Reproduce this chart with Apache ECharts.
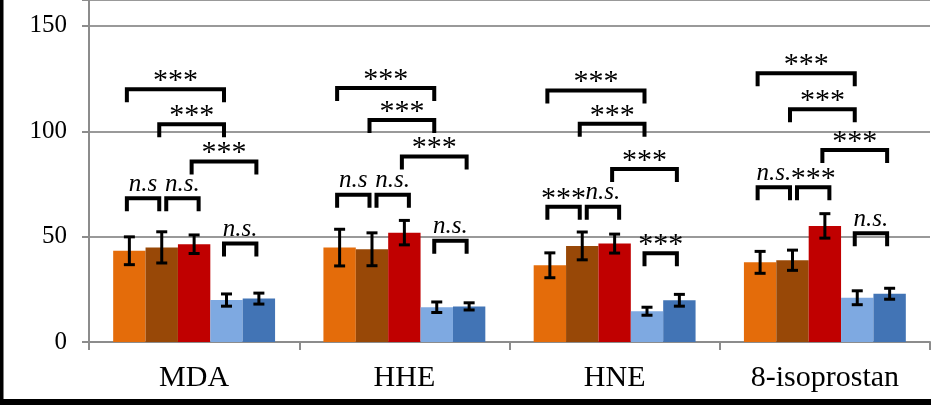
<!DOCTYPE html>
<html>
<head>
<meta charset="utf-8">
<script src="https://cdn.jsdelivr.net/npm/echarts@6/dist/echarts.min.js"></script>
<style>html,body{margin:0;padding:0;background:#fff;}#c{width:931px;height:405px;}</style>
</head>
<body>
<div id="c"></div>
<script>
const categories = ['MDA', 'HHE', 'HNE', '8-isoprostan'];
const yTicks = [0, 50, 100, 150];

const orangeVals = [43.3, 44.8, 36.4, 37.8];
const brownVals  = [44.9, 44.0, 45.6, 38.8];
const redVals    = [46.4, 51.9, 46.7, 55.1];
const lblueVals  = [19.9, 16.5, 14.6, 21.0];
const blueVals   = [20.6, 16.9, 19.8, 22.9];

const orangeErr = [6.6, 8.7, 5.9, 5.2];
const brownErr  = [7.4, 7.8, 6.6, 4.8];
const redErr    = [4.4, 5.8, 4.5, 5.8];
const lblueErr  = [2.9, 2.5, 1.9, 3.3];
const blueErr   = [2.6, 1.7, 2.8, 2.6];

// significance brackets: category, from bar, to bar, level (value), label
const bracketCat   = [0,0,0,0,0,0, 1,1,1,1,1,1, 2,2,2,2,2,2, 3,3,3,3,3,3];
const bracketFrom  = [0,1,2,0,1,3, 0,1,2,0,1,3, 0,1,2,0,1,3, 0,1,2,0,1,3];
const bracketTo    = [3,3,4,1,2,4, 3,3,4,1,2,4, 3,3,4,1,2,4, 3,3,4,1,2,4];
const bracketLevel = [119.9,103.3,85.6,68.2,68.2,46.8,
                      120.5,105.4,88.0,69.9,69.9,48.1,
                      119.3,103.6,82.1,64.2,64.2,42.1,
                      127.5,110.4,91.1,73.4,73.4,51.6];
const bracketText  = ['***','***','***','n.s','n.s.','n.s.',
                      '***','***','***','n.s','n.s.','n.s.',
                      '***','***','***','***','n.s.','***',
                      '***','***','***','n.s.','***','n.s.'];

const values = [orangeVals, brownVals, redVals, lblueVals, blueVals];
const errors = [orangeErr, brownErr, redErr, lblueErr, blueErr];
const colors = ['#E46C0A', '#984807', '#C00000', '#7EA9E1', '#4274B5'];

const GAP = 0.23;
const NB = 5;
const FONT = '"Liberation Serif", "Times New Roman", serif';

function barCenter(api, cat, i) {
  const c = api.coord([cat, 0]);
  const cw = api.size([1, 0])[0];
  const bw = cw * (1 - GAP) / NB;
  return c[0] + (i - (NB - 1) / 2) * bw;
}

const series = [];
values.forEach((vals, i) => {
  series.push({
    type: 'bar',
    data: vals,
    barGap: '0%',
    barCategoryGap: (GAP * 100) + '%',
    itemStyle: { color: colors[i] },
    z: 2
  });
});
errors.forEach((errs, i) => {
  series.push({
    type: 'custom',
    data: errs.map((e, k) => [k, values[i][k], e]),
    encode: { x: 0, y: 1 },
    z: 5,
    clip: false,
    renderItem: function (params, api) {
      const cat = api.value(0), v = api.value(1), e = api.value(2);
      const x = barCenter(api, cat, i);
      const yTop = api.coord([cat, v + e])[1];
      const yBot = api.coord([cat, v - e])[1];
      const hw = 5.5;
      const st = { stroke: '#000', lineWidth: 3 };
      return {
        type: 'group',
        children: [
          { type: 'line', shape: { x1: x, y1: yTop, x2: x, y2: yBot }, style: st },
          { type: 'line', shape: { x1: x - hw, y1: yTop, x2: x + hw, y2: yTop }, style: st },
          { type: 'line', shape: { x1: x - hw, y1: yBot, x2: x + hw, y2: yBot }, style: st }
        ]
      };
    }
  });
});

const bracketData = bracketCat.map((c, k) => [c, bracketFrom[k], bracketTo[k], bracketLevel[k]]);
series.push({
  type: 'custom',
  data: bracketData,
  encode: { x: 0, y: 3 },
  z: 6,
  clip: false,
  renderItem: function (params, api) {
    const k = params.dataIndex;
    const cat = api.value(0), from = api.value(1), to = api.value(2), lvl = api.value(3);
    // shift brackets that start where another adjacent bracket at same level ends
    let shift = -2.5;
    for (let j = 0; j < bracketCat.length; j++) {
      if (j !== k && bracketCat[j] === cat && bracketLevel[j] === lvl && bracketTo[j] === from) { shift = 4.5; }
    }
    const x1 = barCenter(api, cat, from) + shift;
    const x2 = barCenter(api, cat, to) + shift;
    const y = api.coord([cat, lvl])[1];
    const leg = 13;
    const txt = bracketText[k];
    const isStar = txt.indexOf('*') >= 0;
    return {
      type: 'group',
      children: [
        { type: 'polyline', shape: { points: [[x1, y + leg], [x1, y], [x2, y], [x2, y + leg]] },
          style: { stroke: '#000', lineWidth: 4, fill: null, lineJoin: 'miter', lineCap: 'butt' } },
        { type: 'text', style: {
            text: txt,
            x: (x1 + x2) / 2, y: y - (isStar ? 8 : 14),
            align: 'center', verticalAlign: 'middle',
            fontFamily: FONT, fontSize: isStar ? 30 : 25, fontStyle: isStar ? 'normal' : 'italic',
            fill: '#000' } }
      ]
    };
  }
});

const chart = echarts.init(document.getElementById('c'), null, { renderer: 'canvas' });
chart.setOption({
  animation: false,
  backgroundColor: '#fff',
  grid: { left: 89, right: 1, top: 0, bottom: 63, containLabel: false },
  xAxis: {
    type: 'category',
    data: categories,
    axisLine: { lineStyle: { color: '#8c8c8c', width: 2 } },
    axisTick: { show: true, length: 8, lineStyle: { color: '#8c8c8c', width: 2 } },
    axisLabel: { color: '#000', fontSize: 30, fontFamily: FONT, margin: 21 }
  },
  yAxis: {
    type: 'value',
    min: 0, max: 162.3, interval: 50,
    axisLine: { show: true, lineStyle: { color: '#8c8c8c', width: 2 } },
    axisTick: { show: true, length: 7, lineStyle: { color: '#8c8c8c', width: 2 } },
    axisLabel: {
      color: '#000', fontSize: 25, fontFamily: FONT, margin: 22,
      formatter: function (v) { return yTicks.indexOf(v) >= 0 ? String(v) : ''; }
    },
    splitLine: { show: true, lineStyle: { color: '#999', width: 2 } }
  },
  graphic: [
    { type: 'rect', shape: { x: 0, y: 0, width: 3.5, height: 405 }, style: { fill: '#000' }, z: 100 },
    { type: 'rect', shape: { x: 0, y: 399, width: 931, height: 6 }, style: { fill: '#000' }, z: 100 }
  ],
  series: series
});
</script>
</body>
</html>
